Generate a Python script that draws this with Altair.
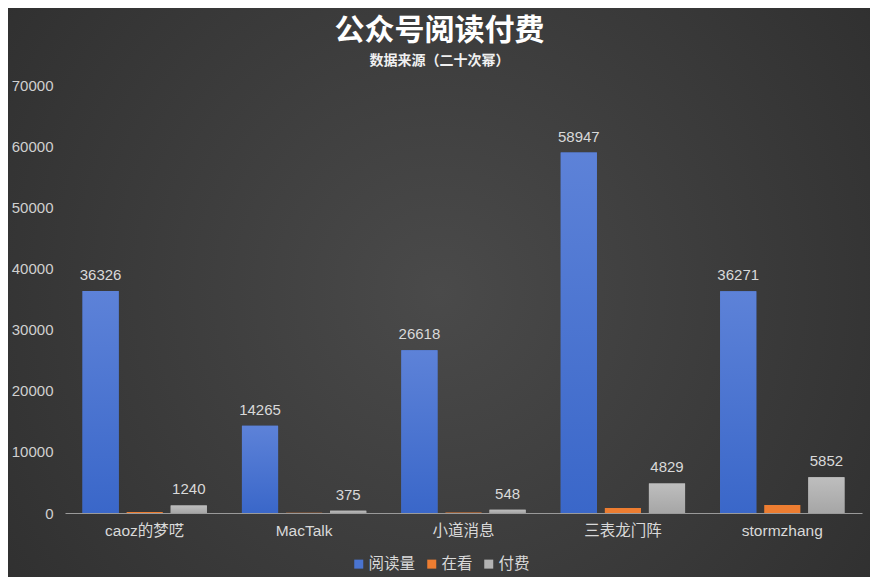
import altair as alt
import pandas as pd

categories = ["caoz的梦呓", "MacTalk", "小道消息", "三表龙门阵", "stormzhang"]
series = ["阅读量", "在看", "付费"]
reads = [36326, 14265, 26618, 58947, 36271]
watching = [150, 60, 100, 800, 1300]
paid = [1240, 375, 548, 4829, 5852]
colors = ["#4a74d0", "#ED7D31", "#b3b3b3"]

rows = []
for i, c in enumerate(categories):
    for s, vals in zip(series, [reads, watching, paid]):
        rows.append({"公众号": c, "series": s, "value": vals[i]})
df = pd.DataFrame(rows)

FONT = "Liberation Sans, 'Noto Sans CJK SC', sans-serif"
W, H = 797, 428
PL, PT, PR, PB = 57, 77, 8, 64

x = alt.X("公众号:N", sort=categories,
          scale=alt.Scale(paddingInner=0.22, paddingOuter=0.11),
          axis=alt.Axis(title=None, labelAngle=0, ticks=False, domainColor="#9a9a9a",
                        labelFontSize=15.5, labelColor="#d9d9d9", labelPadding=10,
                        labelFont=FONT, zindex=1))
xo = alt.XOffset("series:N", sort=series, scale=alt.Scale(paddingInner=0.18))
y = alt.Y("value:Q", scale=alt.Scale(domain=[0, 70000], nice=False),
          axis=alt.Axis(title=None, values=list(range(0, 70001, 10000)), format="d",
                        domain=False, ticks=False, grid=False, labelFontSize=15,
                        labelColor="#d0d0d0", labelPadding=12, labelFont=FONT, zindex=1))

bg = alt.Chart(pd.DataFrame({"k": [0]})).mark_rect(
    clip=False,
    fill=alt.RadialGradient(gradient="radial",
                            stops=[alt.GradientStop(offset=0, color="#4a4a4a"),
                                   alt.GradientStop(offset=1, color="#2a2a2a")],
                            x1=0.5, y1=0.5, r1=0, x2=0.5, y2=0.5, r2=0.75),
).encode(x=alt.value(-PL), x2=alt.value(W + PR), y=alt.value(-PT), y2=alt.value(H + PB))

bars = alt.Chart(df).mark_bar().encode(
    x=x, xOffset=xo, y=y,
    color=alt.Color("series:N", sort=series,
                    scale=alt.Scale(domain=series, range=colors),
                    legend=alt.Legend(title=None, orient="none", legendX=286, legendY=471,
                                      direction="horizontal", symbolType="square",
                                      symbolSize=81, labelFontSize=15.5, labelColor="#d9d9d9",
                                      labelFont=FONT, columnPadding=8, symbolOffset=0,
                                      labelOffset=2, zindex=1)),
)

blue_grad = alt.Chart(df).transform_filter(alt.datum.series == "阅读量").mark_bar(
    fill=alt.LinearGradient(gradient="linear",
                            stops=[alt.GradientStop(offset=0, color="#5d82d8"),
                                   alt.GradientStop(offset=1, color="#3a67c9")],
                            x1=0, x2=0, y1=0, y2=1)
).encode(x=x, xOffset=xo, y=y)

gray_grad = alt.Chart(df).transform_filter(alt.datum.series == "付费").mark_bar(
    fill=alt.LinearGradient(gradient="linear",
                            stops=[alt.GradientStop(offset=0, color="#bebebe"),
                                   alt.GradientStop(offset=1, color="#a6a6a6")],
                            x1=0, x2=0, y1=0, y2=1)
).encode(x=x, xOffset=xo, y=y)

labels = alt.Chart(df).transform_filter(alt.datum.series != "在看").mark_text(
    dy=-16, fontSize=15, color="#d9d9d9", font=FONT
).encode(x=x, xOffset=xo, y=y, text=alt.Text("value:Q", format="d"))

chart = alt.layer(bg, bars, blue_grad, gray_grad, labels).properties(
    width=W, height=H,
    background="#3a3a3a",
    autosize=alt.AutoSizeParams(type="none"),
    padding={"left": PL, "top": PT, "right": PR, "bottom": PB},
    title=alt.TitleParams("公众号阅读付费", subtitle="数据来源（二十次幂）",
                          font="Noto Sans CJK SC", fontSize=30, fontWeight="bold",
                          color="#ffffff", subtitleFont="Noto Sans CJK SC",
                          subtitleFontSize=14, subtitleFontWeight="bold",
                          subtitleColor="#f0f0f0", subtitlePadding=8, offset=-60,
                          anchor="middle", frame="group", dx=-24, zindex=1),
).configure_view(stroke=None)

chart.save("out.html", embed_options={"renderer": "svg", "actions": False})
